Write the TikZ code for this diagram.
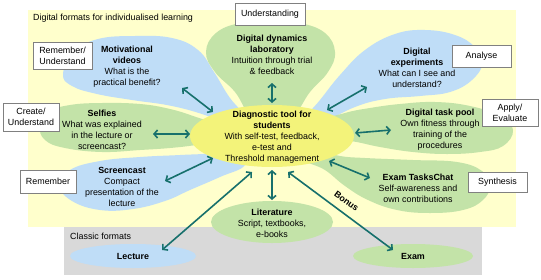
\documentclass[tikz,border=0pt]{standalone}
\usepackage{fontspec}
\setmainfont{Liberation Sans}
\usetikzlibrary{arrows.meta,shapes.geometric}
\definecolor{bgyellow}{HTML}{FFFFCC}
\definecolor{cyellow}{HTML}{F3F37A}
\definecolor{petblue}{HTML}{BFDDF7}
\definecolor{petgreen}{HTML}{C3E3A8}
\definecolor{classgray}{HTML}{D9D9D9}
\definecolor{arrteal}{HTML}{17706C}
\definecolor{boxgray}{HTML}{808080}
\begin{document}
\begin{tikzpicture}[x=1pt,y=-1pt,
  font=\fontsize{8.9}{11}\selectfont,
  txt/.style={align=center, inner sep=0pt},
  lbl/.style={draw=boxgray, fill=white, line width=0.8pt, align=center, inner sep=0pt},
  arr/.style={{Straight Barb[length=3.5pt,width=8pt]}-{Straight Barb[length=3.5pt,width=8pt]}, line width=1.6pt, draw=arrteal},
  oval/.style={ellipse, inner sep=0pt, draw=none},
  petal/.style={smooth cycle, tension=0.7}]
\useasboundingbox (0,0) rectangle (541,279);
% backgrounds
\fill[bgyellow] (28,10) rectangle (516,227);
\fill[classgray] (64,227) rectangle (482,275);
% petals
\fill[petblue] plot[petal] coordinates {(63,74) (74,52) (98,39) (135,36) (172,38) (198,50) (214,72) (230,98) (250,122) (238,128) (208,116) (172,106) (132,100) (97,94) (72,86)};
\fill[petgreen] plot[petal] coordinates {(206,52) (216,33) (240,23) (270,21) (300,23) (325,33) (335,52) (328,72) (310,92) (294,115) (272,126) (250,115) (235,92) (215,72)};
\fill[petblue] plot[petal] coordinates {(302,122) (320,100) (340,75) (365,50) (395,34) (425,30) (455,35) (475,47) (483,62) (472,80) (450,92) (420,96) (385,99) (355,107) (325,122) (308,130)};
\fill[petgreen] plot[petal] coordinates {(40,126) (48,112) (70,105) (102,103) (140,104) (170,109) (196,117) (225,128) (225,140) (196,145) (170,148) (140,150) (102,152) (65,148) (45,140)};
\fill[petblue] plot[petal] coordinates {(60,186) (70,170) (100,161) (140,157) (180,155) (215,153) (240,148) (245,165) (220,177) (190,190) (165,201) (133,209) (100,210) (72,201)};
\fill[petgreen] plot[petal] coordinates {(322,122) (345,113) (370,108) (400,104) (435,102) (470,106) (500,116) (513,130) (503,146) (480,152) (447,154) (413,152) (380,147) (350,141) (322,140)};
\fill[petgreen] plot[petal] coordinates {(315,150) (340,156) (365,158) (413,160) (457,162) (482,171) (490,185) (483,200) (463,210) (430,213) (397,210) (368,200) (345,186) (325,170) (305,160)};
% ovals
\node[oval, fill=cyellow, minimum width=164pt, minimum height=62pt] (diag) at (272,136) {};
\node[oval, fill=petgreen, minimum width=122pt, minimum height=42pt] (lit) at (272,222) {};
\node[oval, fill=petblue, minimum width=126pt, minimum height=24pt] (lec) at (133,256) {};
\node[oval, fill=petgreen, minimum width=120pt, minimum height=24pt] (exam) at (413,256) {};
% section labels
\node[txt, anchor=west] (digfmt) at (33,18) {Digital formats for individualised learning};
\node[txt, anchor=west] (classfmt) at (70,236) {Classic formats};
% texts
\node[txt] (diagt) at (272,137) {\textbf{Diagnostic tool for}\\\textbf{students}\\With self-test, feedback,\\e-test and\\Threshold management};
\node[txt] (mot) at (127,66.5) {\textbf{Motivational}\\\textbf{videos}\\What is the\\practical benefit?};
\node[txt] (dyn) at (272,55) {\textbf{Digital dynamics}\\\textbf{laboratory}\\Intuition through trial\\\& feedback};
\node[txt] (exp) at (417,67.5) {\textbf{Digital}\\\textbf{experiments}\\What can I see and\\understand?};
\node[txt] (sel) at (102,129.5) {\textbf{Selfies}\\What was explained\\in the lecture or\\screencast?};
\node[txt] (pool) at (440,130) {\textbf{Digital task pool}\\Own fitness through\\training of the\\procedures};
\node[txt] (scr) at (122,187) {\textbf{Screencast}\\Compact\\presentation of the\\lecture};
\node[txt] (chat) at (418,188) {\textbf{Exam TasksChat}\\Self-awareness and\\own contributions};
\node[txt] (litt) at (272,223) {\textbf{Literature}\\Script, textbooks,\\e-books};
\node[txt] (lect) at (133,256.5) {\textbf{Lecture}};
\node[txt] (examt) at (413,256.5) {\textbf{Exam}};
% arrow end points
\coordinate (a1) at (182,88);  \coordinate (b1) at (213,112);
\coordinate (a2) at (272,83);  \coordinate (b2) at (272,103);
\coordinate (a3) at (327,110); \coordinate (b3) at (367,87);
\coordinate (a4) at (153,134); \coordinate (b4) at (190,134);
\coordinate (a5) at (355,133); \coordinate (b5) at (391,130);
\coordinate (a6) at (165,181); \coordinate (b6) at (213,158);
\coordinate (a7) at (329,161); \coordinate (b7) at (370,178);
\coordinate (a8) at (272,170); \coordinate (b8) at (272,200);
\coordinate (a9) at (252,172); \coordinate (b9) at (162,250);
\coordinate (a10) at (288,172); \coordinate (b10) at (393,250);
\foreach \i in {1,...,10} {\draw[arr] (a\i) -- (b\i);}
\node[txt, rotate=-36.6] (bonus) at (346.5,201) {\textbf{Bonus}};
% level boxes
\node[lbl, minimum width=59pt, minimum height=27pt] (ru) at (62.5,55.5) {Remember/\\Understand};
\node[lbl, minimum width=70pt, minimum height=22pt] (un) at (270,14) {Understanding};
\node[lbl, minimum width=59pt, minimum height=22pt] (an) at (481.5,56) {Analyse};
\node[lbl, minimum width=56pt, minimum height=28pt] (cu) at (31,117) {Create/\\Understand};
\node[lbl, minimum width=56pt, minimum height=27pt] (ae) at (510,112.5) {Apply/\\Evaluate};
\node[lbl, minimum width=56pt, minimum height=23pt] (re) at (48,181.5) {Remember};
\node[lbl, minimum width=59pt, minimum height=20pt] (sy) at (497.5,182.5) {Synthesis};
\end{tikzpicture}
\end{document}
